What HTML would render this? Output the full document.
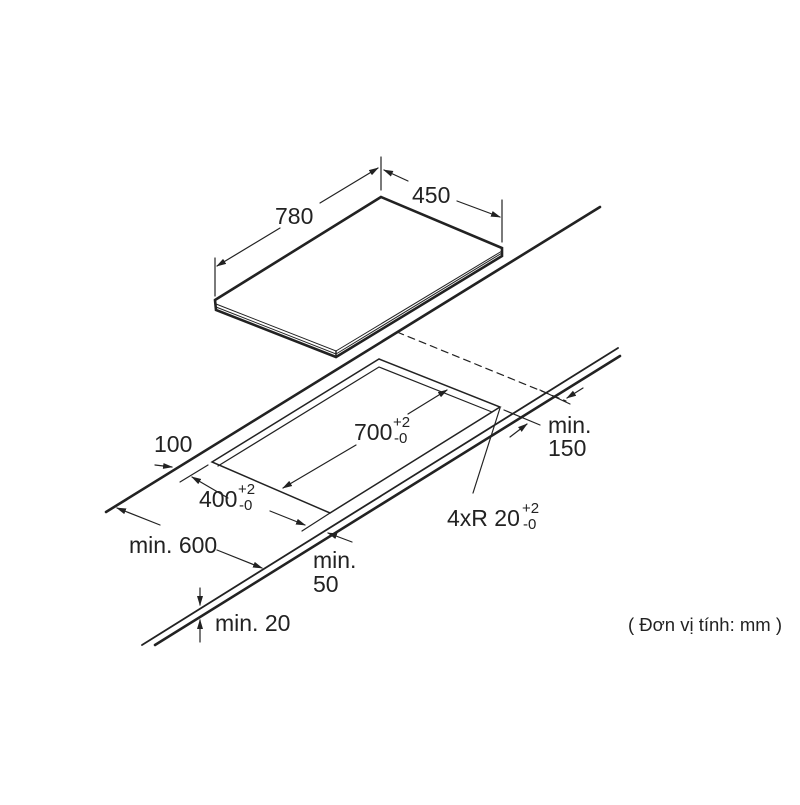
<!DOCTYPE html>
<html><head><meta charset="utf-8"><style>
html,body{margin:0;padding:0;background:#fff;}
svg text{font-family:"Liberation Sans",sans-serif;fill:#222;}
</style></head><body>
<svg width="800" height="800" viewBox="0 0 800 800" xmlns="http://www.w3.org/2000/svg">
<defs>
<marker id="a" markerWidth="10" markerHeight="8" refX="9" refY="4" orient="auto" markerUnits="userSpaceOnUse">
<path d="M0,1 L10,4 L0,7 Z" fill="#222"/></marker>
</defs>
<g stroke="#222" fill="none" stroke-linecap="round">
<path d="M215,300 L381,197 L502,248 L502,256 L336,357 L216,310 Z" fill="#fff" stroke-width="2.6"/>
<path d="M216,304 L336,351 L502,251" stroke-width="1"/>
<path d="M216,307 L336,354 L502,253" stroke-width="1"/>
<path d="M336,351 L336,357" stroke-width="1.5"/>
<line x1="106" y1="512" x2="600" y2="207" stroke-width="2.6"/>
<line x1="142" y1="645" x2="618" y2="348" stroke-width="1.8"/>
<line x1="155" y1="645" x2="620" y2="356" stroke-width="2.6"/>
<path d="M212,462 L379,359 L500,407 L330,513 Z" stroke-width="1.5"/>
<path d="M218,466 L379,367 L492,412" stroke-width="1.2"/>
<line x1="397" y1="332" x2="566" y2="401" stroke-width="1.2" stroke-dasharray="7,5"/>
<line x1="215" y1="258" x2="215" y2="296" stroke-width="1.2"/>
<line x1="381" y1="157" x2="381" y2="190" stroke-width="1.2"/>
<line x1="280" y1="228" x2="217" y2="266" stroke-width="1.2" marker-end="url(#a)"/>
<line x1="320" y1="203" x2="378" y2="168" stroke-width="1.2" marker-end="url(#a)"/>
<line x1="502" y1="200" x2="502" y2="242" stroke-width="1.2"/>
<line x1="408" y1="181" x2="384" y2="170" stroke-width="1.2" marker-end="url(#a)"/>
<line x1="457" y1="201" x2="500" y2="217" stroke-width="1.2" marker-end="url(#a)"/>
<line x1="408" y1="414" x2="447" y2="390" stroke-width="1.2" marker-end="url(#a)"/>
<line x1="356" y1="445" x2="283" y2="488" stroke-width="1.2" marker-end="url(#a)"/>
<line x1="180" y1="482" x2="208" y2="465" stroke-width="1.2"/>
<line x1="302" y1="531" x2="330" y2="513" stroke-width="1.2"/>
<line x1="228" y1="498" x2="192" y2="477" stroke-width="1.2" marker-end="url(#a)"/>
<line x1="270" y1="511" x2="305" y2="525" stroke-width="1.2" marker-end="url(#a)"/>
<line x1="155" y1="465" x2="172" y2="467" stroke-width="1.2" marker-end="url(#a)"/>
<line x1="160" y1="525" x2="117" y2="508" stroke-width="1.2" marker-end="url(#a)"/>
<line x1="217" y1="550" x2="262" y2="568" stroke-width="1.2" marker-end="url(#a)"/>
<line x1="352" y1="542" x2="328" y2="533" stroke-width="1.2" marker-end="url(#a)"/>
<line x1="200" y1="588" x2="200" y2="605" stroke-width="1.2" marker-end="url(#a)"/>
<line x1="200" y1="642" x2="200" y2="620" stroke-width="1.2" marker-end="url(#a)"/>
<line x1="540" y1="390" x2="570" y2="404" stroke-width="1.2"/>
<line x1="504" y1="410" x2="540" y2="425" stroke-width="1.2"/>
<line x1="583" y1="388" x2="567" y2="398" stroke-width="1.2" marker-end="url(#a)"/>
<line x1="510" y1="437" x2="527" y2="424" stroke-width="1.2" marker-end="url(#a)"/>
<line x1="500" y1="408" x2="473" y2="493" stroke-width="1.2"/>
</g>
<g font-size="23">
<text x="275" y="224">780</text>
<text x="412" y="203">450</text>
<text x="354" y="440">700</text><text x="393" y="427" font-size="15">+2</text><text x="394" y="443" font-size="15">-0</text>
<text x="199" y="507">400</text><text x="238" y="494" font-size="15">+2</text><text x="239" y="510" font-size="15">-0</text>
<text x="154" y="452">100</text>
<text x="129" y="553">min. 600</text>
<text x="313" y="568">min.</text>
<text x="313" y="592">50</text>
<text x="215" y="631">min. 20</text>
<text x="548" y="433">min.</text>
<text x="548" y="456">150</text>
<text x="447" y="526">4xR 20</text><text x="522" y="513" font-size="15">+2</text><text x="523" y="529" font-size="15">-0</text>
<text x="628" y="631" font-size="18.5">( Đơn vị tính: mm )</text>
</g>
</svg>
</body></html>
